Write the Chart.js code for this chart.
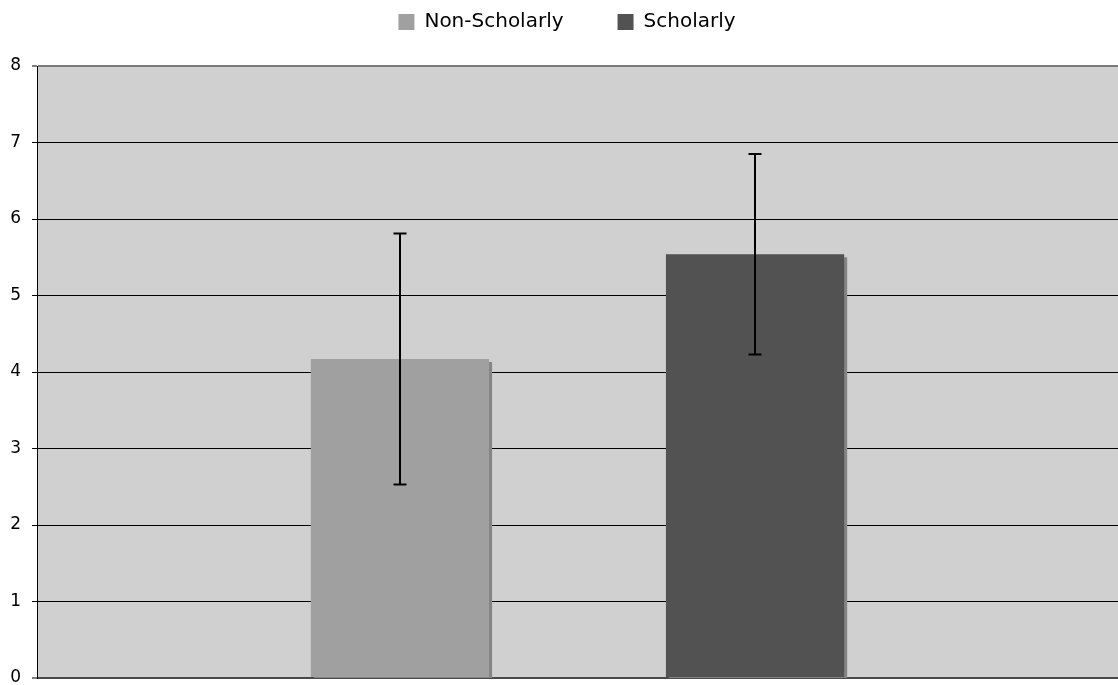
<!DOCTYPE html>
<html>
<head>
<meta charset="utf-8">
<script src="https://cdn.jsdelivr.net/npm/chart.js@4/dist/chart.umd.min.js"></script>
<style>
html,body{margin:0;padding:0;background:#fff;}
#wrap{width:1118px;height:685px;}
</style>
</head>
<body>
<div id="wrap"><canvas id="c" width="1118" height="685"></canvas></div>
<script>
const categories = [""];
const seriesNames = ["Non-Scholarly", "Scholarly"];
const nonScholarly = [4.17];
const scholarly = [5.54];
const nonScholarlyErr = [1.64];
const scholarlyErr = [1.31];
const yTicks = [0, 1, 2, 3, 4, 5, 6, 7, 8];

const errors = [nonScholarlyErr, scholarlyErr];

const shadowPlugin = {
  id: 'barShadow',
  beforeDatasetDraw(chart) {
    const ctx = chart.ctx;
    ctx.save();
    ctx.shadowColor = '#858585';
    ctx.shadowOffsetX = 3;
    ctx.shadowOffsetY = 3;
    ctx.shadowBlur = 0;
  },
  afterDatasetDraw(chart) {
    chart.ctx.restore();
  }
};

const errorBarPlugin = {
  id: 'errorBars',
  afterDatasetsDraw(chart) {
    const ctx = chart.ctx;
    const y = chart.scales.y;
    ctx.save();
    ctx.strokeStyle = '#000';
    ctx.lineWidth = 2;
    chart.data.datasets.forEach((ds, di) => {
      const meta = chart.getDatasetMeta(di);
      meta.data.forEach((bar, i) => {
        const v = ds.data[i];
        const e = errors[di][i];
        const x = Math.round(bar.x);
        const yt = y.getPixelForValue(v + e);
        const yb = y.getPixelForValue(v - e);
        ctx.beginPath();
        ctx.moveTo(x, yt);
        ctx.lineTo(x, yb);
        ctx.moveTo(x - 6.5, yt);
        ctx.lineTo(x + 6.5, yt);
        ctx.moveTo(x - 6.5, yb);
        ctx.lineTo(x + 6.5, yb);
        ctx.stroke();
      });
    });
    ctx.restore();
  }
};

const bgPlugin = {
  id: 'plotBg',
  beforeDraw(chart) {
    const a = chart.chartArea;
    const ctx = chart.ctx;
    ctx.save();
    ctx.fillStyle = '#d0d0d0';
    ctx.fillRect(a.left, a.top, a.right - a.left, a.bottom - a.top);
    ctx.restore();
  }
};

const legendShift = {
  id: 'legendShift',
  afterLayout(chart) {
    const lg = chart.legend;
    if (!lg) return;
    lg.left += 8; lg.right += 8;
    lg.top -= 24; lg.bottom -= 24;
  }
};

new Chart(document.getElementById('c'), {
  type: 'bar',
  data: {
    labels: categories,
    datasets: [
      { label: seriesNames[0], data: nonScholarly, backgroundColor: '#a0a0a0', categoryPercentage: 0.657, barPercentage: 0.502 },
      { label: seriesNames[1], data: scholarly, backgroundColor: '#525252', categoryPercentage: 0.657, barPercentage: 0.502 }
    ]
  },
  options: {
    responsive: false,
    devicePixelRatio: 1,
    animation: false,
    layout: { padding: { left: 0, right: 0, top: -18, bottom: 7 } },
    plugins: {
      legend: {
        display: true,
        position: 'top',
        labels: {
          boxWidth: 16,
          boxHeight: 16,
          padding: 54,
          color: '#000',
          font: { family: 'DejaVu Sans', size: 20 },
          generateLabels(chart) {
            return chart.data.datasets.map((ds, i) => ({
              text: ds.label, fillStyle: ds.backgroundColor, strokeStyle: ds.backgroundColor,
              lineWidth: 0, hidden: false, datasetIndex: i
            }));
          }
        }
      },
      tooltip: { enabled: false }
    },
    scales: {
      x: {
        display: false
      },
      y: {
        min: 0,
        max: 8,
        afterBuildTicks(scale) { scale.ticks = yTicks.map(v => ({ value: v })); },
        afterFit(scale) { scale.width = 37; scale.paddingTop = 0; scale.paddingBottom = 0; },
        grid: {
          color(ctx) {
            if (!ctx.tick) return '#000';
            if (ctx.tick.value === 8) return '#7a7a7a';
            if (ctx.tick.value === 0) return '#4a4a4a';
            return '#000';
          },
          lineWidth(ctx) { return ctx.tick && (ctx.tick.value === 8 || ctx.tick.value === 0) ? 2 : 1; },
          tickLength: 5,
          tickColor: '#000',
          tickWidth: 1,
          drawTicks: true
        },
        border: { display: true, color: '#000', width: 1 },
        ticks: {
          color: '#000',
          padding: 11,
          font: { family: 'DejaVu Sans', size: 17 }
        }
      }
    }
  },
  plugins: [bgPlugin, legendShift, shadowPlugin, errorBarPlugin]
});
</script>
</body>
</html>
